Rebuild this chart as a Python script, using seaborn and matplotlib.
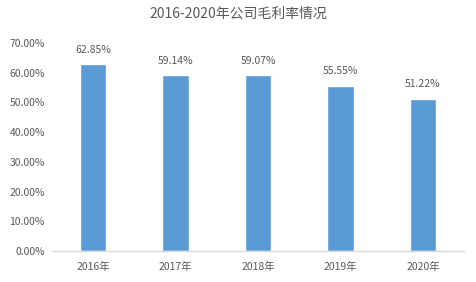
import matplotlib
matplotlib.use("Agg")
import matplotlib.pyplot as plt
import seaborn as sns
import pandas as pd

years = ["2016年", "2017年", "2018年", "2019年", "2020年"]
margins = [62.85, 59.14, 59.07, 55.55, 51.22]
title = "2016-2020年公司毛利率情况"

sns.set_theme(style="white")
plt.rcParams['font.family'] = ['Noto Sans CJK SC', 'DejaVu Sans']

df = pd.DataFrame({"year": years, "margin": [m / 100 for m in margins]})

fig = plt.figure(figsize=(4.76, 2.82), dpi=100)
ax = fig.add_axes([0.109, 0.11, 0.866, 0.7375])
sns.barplot(data=df, x="year", y="margin", color="#5B9BD5", saturation=1,
            width=0.32, ax=ax)

txt = "#595959"
ax.set_ylim(0, 0.70)
ax.set_yticks([i / 10 for i in range(8)])
ax.set_yticklabels([f"{i*10:.2f}%" for i in range(8)], fontsize=7.5, color=txt)
ax.tick_params(axis='x', labelsize=7.5, colors=txt, length=0, pad=8)
ax.tick_params(axis='y', length=0, pad=5)
ax.set_xlabel("")
ax.set_ylabel("")
for s in ["top", "right", "left"]:
    ax.spines[s].set_visible(False)
ax.spines["bottom"].set_color("#D9D9D9")
ax.spines["bottom"].set_linewidth(1)

for p, m in zip(ax.patches, margins):
    ax.annotate(f"{m:.2f}%", (p.get_x() + p.get_width() / 2, p.get_height()),
                xytext=(0, 7), textcoords="offset points", ha="center",
                va="bottom", fontsize=7.5, color=txt)

fig.suptitle(title, x=0.5, y=0.975, fontsize=10, color=txt)
fig.savefig("out.png", dpi=100)
